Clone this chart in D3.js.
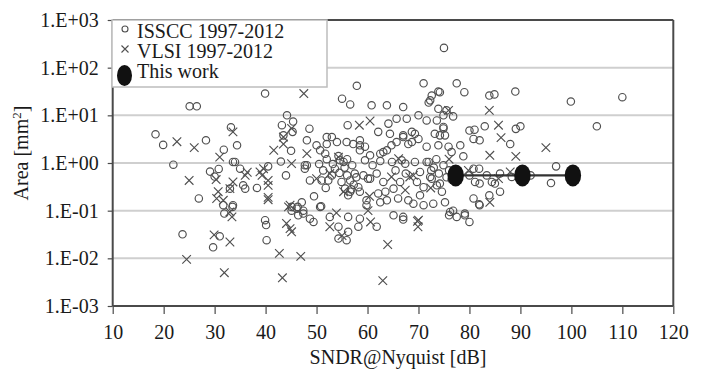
<!DOCTYPE html>
<html>
<head>
<meta charset="utf-8">
<script src="https://cdn.jsdelivr.net/npm/d3@7/dist/d3.min.js"></script>
<style>
  html, body { margin: 0; padding: 0; background: #fff; }
  svg { display: block; }
  text { font-family: "Liberation Serif", "Times New Roman", serif; fill: #1a1a1a; }
</style>
</head>
<body>
<svg id="chart" width="705" height="369"></svg>
<script>
// ---------------- data ----------------
// ISSCC 1997-2012: [SNDR@Nyquist dB, Area mm2]
const isscc = [
  [18.4,4],[19.9,2.4],[21.9,0.92],[23.7,0.032],[25.1,15.5],[26.5,15.5],[28.3,3],[26.9,0.18],
  [29.1,0.66],[30,0.52],[30.8,0.75],[29.7,0.017],[31,0.029],[33,0.29],[31.7,0.13],[33.6,0.13],
  [33.2,5.6],[33.6,1.05],[34.4,2.35],[31.8,1.9],[31.9,0.087],[33.5,0.12],[34,1.05],
  [35,0.76],[35.6,0.34],[36,0.29],[38.3,0.3],[39.9,0.063],[40.1,0.05],[40.2,0.024],[39.9,28.6],
  [40.5,0.85],[43.2,6.2],[44.2,10],[45.4,7.4],[43.5,3.8],[45.3,4.5],[45,1.8],[43,1.07],[44,0.55],
  [48.1,0.9],[47.7,0.76],[45.1,0.12],[46.3,0.12],[47.4,0.087],[46.4,0.08],[47.4,0.1],[45.1,0.1],
  [46.1,0.11],[47.1,0.15],[48.7,0.068],[49.4,0.058],[50.9,0.124],[50.7,0.12],[52.6,0.074],
  [54.3,0.046],[54.3,0.026],[55.9,0.024],[56.2,0.036],[58.2,0.046],[61.8,0.046],[56.2,0.074],
  [58.5,0.068],[59.8,0.13],[48.1,3],[50,2.35],[51.7,1.57],[52,3.5],[51,0.43],[53.6,0.76],
  [54.6,1.14],[55.6,0.29],[56.6,0.25],[58.2,0.31],[55.9,2.75],[58.5,2.35],[59.5,1.14],[60.1,0.47],
  [48.6,5.25],[56.1,6.2],[62.1,4.5],[64.1,6.7],[65.7,8.5],[67.7,8.5],[70,10],[71.6,7.8],[73.6,7.8],
  [74.9,5.7],[73.2,4.1],[67,3.8],[68.7,4.5],[70,3.2],[68,2.5],[65.7,2.75],[63.8,1.85],[62.5,1.57],
  [60.5,1.45],[59.5,2.2],[58.5,1.85],[57.2,2.5],[58.5,3],[54,2.75],[53,3.5],[52,2.5],[50.7,1.85],
  [47.7,0.9],[51.3,0.7],[55.3,1.05],[48.7,0.43],[52.3,0.43],[54.9,0.4],[56.6,0.43],[56.2,0.21],
  [58.5,0.25],[59.8,0.165],[62.1,0.23],[63.8,0.165],[63.1,0.4],[65.1,0.29],[66.4,0.4],[69.7,0.4],
  [70.3,0.65],[72.3,0.51],[73.6,0.34],[72.9,0.14],[76.8,0.1],[74.9,0.9],[71.6,1.05],[69.3,1.05],
  [66.7,1.14],[64.8,1.05],[61.8,0.6],[60.5,0.47],[59.2,0.55],
  [63.1,1.7],[64.7,2.35],[67,3.5],[68.7,2.75],[69.3,4.1],[71.6,2.2],[73.9,2.35],[74.2,3.8],
  [67.4,0.97],[72,1.05],[71,0.31],[72.6,0.47],[74.2,0.37],[74.6,0.25],[68,0.165],[70.3,0.21],
  [75.2,0.15],[62.5,0.15],[65.1,0.08],[67,0.074],[71,0.13],[76,0.08],[77.5,0.074],[64.4,4.1],
  [67,0.065],[79.1,0.08],[80,0.058],[82,0.13],
  [75,260],[77.5,47],[79,30.6],[83.9,26],[84.9,27.5],[89,31.6],[99.9,19.5],[110,24],[105,5.9],
  [81,5],[80,4.8],[83,5.9],[89.1,5.2],[90,5.9],[88,2.5],[82,3],[80.8,3.2],[97,0.85],[96,0.38],
  [86,0.25],[83.9,0.21],[81.9,0.136],[80.8,0.18],[80.8,0.76],[81.9,0.76],[81.1,0.4],[82,0.37],
  [83.4,0.55],[84.4,0.4],[85,0.37],[88.3,0.51],[92,0.55],[76.2,0.094],[79.1,0.087],
  [78.2,2.35],[78.8,1.38],[76.8,9.5],[74.9,10],[74.9,5.3],[75.2,3.8],[75.9,2.2],[76.5,1.7],[74.2,30.6],
  [57.9,41.7],[55,22.3],[56.6,16.9],[60.8,16.2],[63.8,16.2],[67,14.9],[71,47],[72.6,26],[73.9,31.6],
  [72.3,20.6],[73.9,13.7],[75.5,12.7],[72,18.5],
  [55.5,0.8],[57,0.9],[56,1.2],[57.5,0.6],[53,0.55],[54.5,0.62],[50.5,0.95],[52,1.2],
  [73,0.8],[74,0.6],[75.5,0.5],[76.5,0.45],[73.5,1.2],[76,0.7],[72.5,0.7],[80,0.55],[86,0.6],
  [61,0.9],[62.5,1.1],[65.5,0.7],[67.5,0.6],[63.5,0.25],[66,0.18],[69,0.14],
  [54.3,1.4],[56.8,0.28],[57.3,0.35],[53.2,0.95],[57.8,0.5],[56,0.55],[49.5,0.2],[51.8,0.3]
];
// VLSI 1997-2012
const vlsi = [
  [22.6,2.8],[26,2.1],[25,0.43],[24.5,0.0095],[29.9,0.031],[31.9,0.005],[33,0.022],[30.3,0.45],
  [30.4,0.18],[33.4,0.074],[33.6,4.5],[40.5,0.17],[42.7,0.0127],[43.3,0.0039],[46.9,0.011],
  [44.1,0.054],[45.1,0.036],[63.96,0.0195],[63,0.0034],[52.6,0.046],[55,0.03],[60.6,0.058],
  [70,0.063],[69.9,0.046],[84,0.15],[83.9,12.7],[85.7,6.2],[86.2,3.4],[95,2.1],[84,1.45],
  [89.1,1.38],[85.7,0.47],[88,0.65],[75.9,12.7],[76,1.2],[47.5,28.6],[58.4,6.2],[60.5,7.6],
  [48.1,1.57],[54.3,1.33],[50,0.47],[52.6,0.6],[55.3,0.25],[60.4,0.2],[68.3,0.51],[79.8,0.7],
  [41.6,1.85],[43.5,2.5],[45.1,0.97],[38.9,0.65],[40.5,0.43],[40.5,0.19],[44.8,0.13],[44.8,0.042],
  [53.9,0.09],[60.1,0.1],[66.1,1.23],[64.7,0.51],[67.4,0.27],[69,0.55],[72.4,0.3],[69.8,0.06],
  [31,1.33],[30.7,0.25],[31.7,0.165],[33,0.094],[33,0.29],[33.6,0.4],[36,0.55],[39.6,0.76],
  [39.3,0.55],[40.5,0.34],[43.5,3.5],[45.1,5.3],[44.5,0.12],[36.4,0.64]
];
// This work
const thisWorkSndr = [77.3, 90.4, 100.3];
const thisWorkArea = [0.55, 0.55, 0.55];

const xTicks = [10,20,30,40,50,60,70,80,90,100,110,120];
const yTicks = [1e-3,1e-2,1e-1,1e0,1e1,1e2,1e3];
const yTickLabels = ["1.E-03","1.E-02","1.E-01","1.E+00","1.E+01","1.E+02","1.E+03"];
const legendLabels = ["ISSCC 1997-2012","VLSI 1997-2012","This work"];
const xTitle = "SNDR@Nyquist [dB]";

// ---------------- drawing ----------------
const svg = d3.select("#chart");
const x = d3.scaleLinear().domain([10,120]).range([112.7,673.3]);
const y = d3.scaleLog().domain([1e-3,1e3]).range([306,20]);
const axisCol = "#4a4a4a";
const markCol = "#4f4f4f";

// gridlines
svg.append("g").selectAll("line").data(yTicks.slice(1,-1)).join("line")
  .attr("x1", x(10)).attr("x2", x(120))
  .attr("y1", d => y(d)).attr("y2", d => y(d))
  .attr("stroke", "#cfcfcf").attr("stroke-width", 2);

// frame (top & right)
svg.append("line").attr("x1", x(10)).attr("x2", x(120)).attr("y1", y(1e3)).attr("y2", y(1e3))
  .attr("stroke", axisCol).attr("stroke-width", 2);
svg.append("line").attr("x1", x(120)).attr("x2", x(120)).attr("y1", y(1e3)).attr("y2", y(1e-3))
  .attr("stroke", axisCol).attr("stroke-width", 2);

// ISSCC circles
svg.append("g").selectAll("circle").data(isscc).join("circle")
  .attr("cx", d => x(d[0])).attr("cy", d => y(d[1])).attr("r", 3.7)
  .attr("fill", "none").attr("stroke", markCol).attr("stroke-width", 1.15);

// VLSI crosses
const cs = 4.3;
svg.append("g").selectAll("path").data(vlsi).join("path")
  .attr("d", d => {
    const cx = x(d[0]), cy = y(d[1]);
    return `M${cx-cs},${cy-cs}L${cx+cs},${cy+cs}M${cx-cs},${cy+cs}L${cx+cs},${cy-cs}`;
  })
  .attr("fill", "none").attr("stroke", markCol).attr("stroke-width", 1.15);

// This work
const tw = thisWorkSndr.map((s,i) => [s, thisWorkArea[i]]);
svg.append("path").datum(tw)
  .attr("d", d3.line().x(d => x(d[0])).y(d => y(d[1])))
  .attr("fill", "none").attr("stroke", "#333").attr("stroke-width", 2.2);
svg.append("g").selectAll("ellipse").data(tw).join("ellipse")
  .attr("cx", d => x(d[0])).attr("cy", d => y(d[1])).attr("rx", 8.2).attr("ry", 11)
  .attr("fill", "#111");

// axes
const yAxis = svg.append("g").attr("transform", `translate(${x(10)},0)`)
  .call(d3.axisLeft(y).tickValues(yTicks).tickFormat((d,i) => yTickLabels[i]).tickSize(5).tickPadding(9));
const xAxis = svg.append("g").attr("transform", `translate(0,${y(1e-3)})`)
  .call(d3.axisBottom(x).tickValues(xTicks).tickFormat(d3.format("d")).tickSize(8).tickPadding(11));
[yAxis, xAxis].forEach(g => {
  g.select(".domain").attr("stroke", axisCol).attr("stroke-width", 2);
  g.selectAll(".tick line").attr("stroke", axisCol).attr("stroke-width", 1.2);
  g.selectAll("text").attr("font-size", 20).attr("font-family", "Liberation Serif").attr("fill", "#1a1a1a");
});
yAxis.select(".domain").attr("d", `M0,${y(1e3)}V${y(1e-3)}`);
xAxis.select(".domain").attr("d", `M${x(10)},0H${x(120)}`);

// legend
const lg = svg.append("g");
lg.append("rect").attr("x", 112).attr("y", 20).attr("width", 215).attr("height", 67)
  .attr("fill", "#fff").attr("stroke", "#bdbdbd").attr("stroke-width", 1.5);
lg.append("circle").attr("cx", 125).attr("cy", 29).attr("r", 3)
  .attr("fill", "none").attr("stroke", markCol).attr("stroke-width", 1.1);
lg.append("path").attr("d", `M121.5,45.5L128.5,52.5M121.5,52.5L128.5,45.5`)
  .attr("stroke", markCol).attr("stroke-width", 1.1);
lg.append("ellipse").attr("cx", 124.5).attr("cy", 75.5).attr("rx", 7.5).attr("ry", 10.5).attr("fill", "#111");
lg.selectAll("text").data(legendLabels).join("text")
  .attr("x", 137).attr("y", (d,i) => 38 + i*20)
  .attr("font-size", 20).text(d => d);

// axis titles
svg.append("text").attr("x", 398).attr("y", 364).attr("text-anchor", "middle")
  .attr("font-size", 20).text(xTitle);
const yt = svg.append("text").attr("transform", "translate(28,153) rotate(-90)")
  .attr("text-anchor", "middle").attr("font-size", 20);
yt.append("tspan").text("Area [mm");
yt.append("tspan").attr("dy", -7).attr("font-size", 13).text("2");
yt.append("tspan").attr("dy", 7).text("]");
</script>
</body>
</html>
